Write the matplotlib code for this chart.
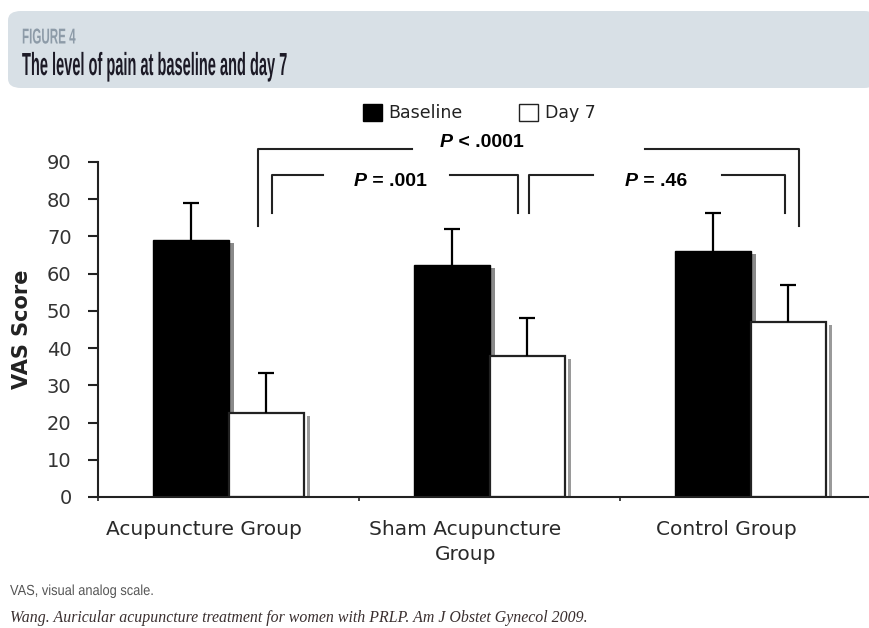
import matplotlib
matplotlib.use('Agg')
import matplotlib.pyplot as plt
import numpy as np
from matplotlib.patches import FancyBboxPatch, Patch
from matplotlib.patheffects import AbstractPathEffect
from matplotlib.transforms import Affine2D

# donnees
groups = ['Acupuncture Group', 'Sham Acupuncture\nGroup', 'Control Group']
baseline = [69.0, 62.3, 66.1]
baseline_err = [10.0, 9.7, 10.2]
day7 = [22.6, 37.9, 47.0]
day7_err = [10.7, 10.2, 10.0]
series = ['Baseline', 'Day 7']
yticks = [0, 10, 20, 30, 40, 50, 60, 70, 80, 90]


class Serre(AbstractPathEffect):
    """Police etroite : on ecrase le texte horizontalement"""
    def __init__(self, sx):
        super().__init__()
        self.sx = sx

    def draw_path(self, renderer, gc, tpath, affine, rgbFace=None):
        renderer.draw_path(gc, tpath, Affine2D().scale(self.sx, 1) + affine,
                           rgbFace)


W, H = 869, 628
fig = plt.figure(figsize=(W / 100, H / 100), dpi=100)

# bandeau du titre
band = FancyBboxPatch((8 / W, 1 - 88 / H), 1.0, 77 / H,
                      boxstyle='round,pad=0,rounding_size=0.015',
                      transform=fig.transFigure, facecolor='#d8e0e6',
                      edgecolor='none')
fig.patches.append(band)
arial = ['Liberation Sans', 'DejaVu Sans']
fig.text(22 / W, 1 - 38 / H, 'FIGURE 4', color='#8d9ba8', fontsize=15.5,
         fontweight='bold', family=arial, va='center',
         path_effects=[Serre(0.54)])
fig.text(22 / W, 1 - 67 / H, 'The level of pain at baseline and day 7',
         color='#1c1a26', fontsize=23, fontweight='bold', family=arial,
         va='center', path_effects=[Serre(0.457)])

# axes : 0 -> x=98px, 3 -> x=881px
ax = fig.add_axes([98 / W, (H - 497) / H, 783 / W, 335 / H])
ax.set_xlim(0, 3)
ax.set_ylim(0, 90)

bw = 0.29
x = np.arange(len(groups)) + 0.5
xb = x - bw / 2
xd = x + bw / 2

# ombres grises
ax.bar(xb + 0.022, np.array(baseline) - 0.8, bw, color='#8a8a8a', zorder=1)
ax.bar(xd + 0.022, np.array(day7) - 0.8, bw, color='#9a9a9a', zorder=1)
ax.bar(xd + 0.012, np.array(day7) - 0.4, bw, color='white', zorder=1.5)

ax.bar(xb, baseline, bw, color='black', edgecolor='black', lw=1, zorder=2)
ax.bar(xd, day7, bw, color='white', edgecolor='#222222', lw=1.6, zorder=2)

for xs, vals, errs in [(xb, baseline, baseline_err), (xd, day7, day7_err)]:
    eb = ax.errorbar(xs, vals, yerr=[np.zeros(3), errs], fmt='none',
                     ecolor='black', elinewidth=1.6, capsize=5.5,
                     capthick=1.6, zorder=3)
    eb[1][0].set_visible(False)  # pas de cap en bas

for s in ['top', 'right']:
    ax.spines[s].set_visible(False)
ax.spines['left'].set_linewidth(1.5)
ax.spines['bottom'].set_linewidth(1.5)
ax.spines['left'].set_color('#222222')
ax.spines['bottom'].set_color('#222222')

ax.set_yticks(yticks)
ax.tick_params(axis='y', direction='out', length=7, width=1.5, pad=12,
               labelsize=14, labelcolor='#333333', color='#222222')
ax.set_xticks([0, 1, 2, 3])
ax.set_xticklabels([])
ax.tick_params(axis='x', direction='out', length=3, width=1.2, color='#222222')
for xi, g in zip(x, groups):
    ax.text(xi - 0.093, -6.3, g, ha='center', va='top', fontsize=14.5,
            color='#2a2a2a', linespacing=1.35)

ax.set_ylabel('VAS Score', fontsize=15, fontweight='bold', labelpad=11,
              color='#222222')


def px(xp, yp):
    return (xp - 98) / 261.0, (497 - yp) / 3.722


def line(pts):
    xs, ys = zip(*[px(a, b) for a, b in pts])
    ax.plot(xs, ys, color='#222222', lw=1.5, clip_on=False)


# crochets de significativite
line([(258, 226), (258, 149), (412, 149)])
line([(645, 149), (799, 149), (799, 226)])
line([(272, 213), (272, 175), (323, 175)])
line([(450, 175), (518, 175), (518, 213)])
line([(529, 213), (529, 175), (593, 175)])
line([(722, 175), (785, 175), (785, 213)])

for (xp, yp, rest) in [(453, 143, ' < .0001'), (367, 182, ' = .001'),
                       (638, 182, ' = .46')]:
    xa, ya = px(xp, yp)
    ax.text(xa, ya, 'P', ha='right', va='center', fontsize=14,
            fontweight='bold', fontstyle='italic', family=arial)
    ax.text(xa, ya, rest, ha='left', va='center', fontsize=14,
            fontweight='bold', family=arial)

# legende
handles = [Patch(facecolor='black', edgecolor='black', label=series[0]),
           Patch(facecolor='white', edgecolor='#222222', label=series[1])]
fig.legend(handles=handles, loc='center', bbox_to_anchor=(479 / W, 1 - 113 / H),
           ncol=2, frameon=False, fontsize=12.5, handlelength=1.1,
           handleheight=1.1, handletextpad=0.4, columnspacing=3.2,
           labelcolor='#222222')

# notes
fig.text(10 / W, 1 - 591 / H, 'VAS, visual analog scale.', fontsize=10.5,
         color='#555555', family=arial, va='center',
         path_effects=[Serre(0.88)])
fig.text(10 / W, 1 - 618 / H,
         'Wang. Auricular acupuncture treatment for women with PRLP. Am J Obstet Gynecol 2009.',
         fontsize=11.4, color='#3a2f2f', family=['Liberation Serif', 'DejaVu Serif'],
         style='italic', va='center')

fig.savefig('out.png', dpi=100)
